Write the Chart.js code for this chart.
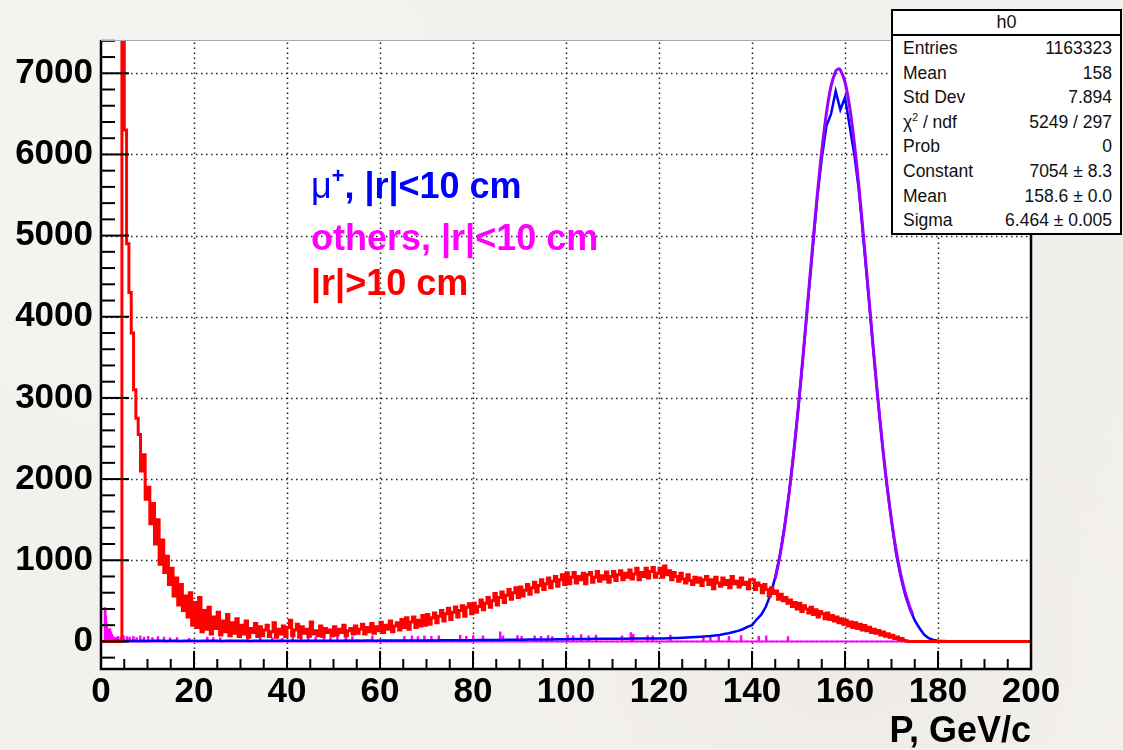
<!DOCTYPE html>
<html>
<head>
<meta charset="utf-8">
<title>h0</title>
<script src="https://cdn.jsdelivr.net/npm/chart.js@4.4.1/dist/chart.umd.min.js"></script>
<style>
  html, body { margin: 0; padding: 0; }
  body {
    width: 1123px; height: 750px; overflow: hidden; position: relative;
    font-family: "Liberation Sans", Arial, sans-serif;
    background:
      radial-gradient(circle at 15% 20%, #f7f5f2 0, rgba(247,245,242,0) 30%),
      radial-gradient(circle at 75% 85%, #eeebe7 0, rgba(238,235,231,0) 35%),
      radial-gradient(circle at 95% 40%, #f0eeea 0, rgba(240,238,234,0) 25%),
      #f3f1ee;
  }
  #chart { position: absolute; left: 0; top: 0; }
  .note { position: absolute; font-weight: bold; font-size: 36px; line-height: 1; white-space: nowrap; }
  .note sup { font-size: 60%; vertical-align: 0.7em; line-height: 0; }
  #stats {
    position: absolute; left: 891px; top: 9px; width: 231px;
    border: 2px solid #000; background: #fff; color: #111;
    font-size: 17.5px; box-sizing: border-box;
  }
  #stats .title { height: 23px; line-height: 23px; text-align: center; font-size: 18px; border-bottom: 2px solid #000; }
  #stats .row { display: flex; justify-content: space-between; height: 24.6px; line-height: 24.6px; padding: 0 8px 0 10px; }
  #stats sup { font-size: 60%; line-height: 0; }
</style>
</head>
<body>
<canvas id="chart" width="1123" height="750"></canvas>

<div class="note" style="left:311px; top:168px; color:#0000ff;"><span style="font-weight:normal">μ</span><sup>+</sup>, |r|&lt;10 cm</div>
<div class="note" style="left:311px; top:220px; color:#ff00ff;">others, |r|&lt;10 cm</div>
<div class="note" style="left:311px; top:265px; color:#ff0000;">|r|&gt;10 cm</div>

<div id="stats">
  <div class="title">h0</div>
  <div class="row"><span>Entries</span><span>1163323</span></div>
  <div class="row"><span>Mean</span><span>158</span></div>
  <div class="row"><span>Std Dev</span><span>7.894</span></div>
  <div class="row"><span>χ<sup>2</sup> / ndf</span><span>5249 / 297</span></div>
  <div class="row"><span>Prob</span><span>0</span></div>
  <div class="row"><span>Constant</span><span>7054 ± 8.3</span></div>
  <div class="row"><span>Mean</span><span>158.6 ± 0.0</span></div>
  <div class="row"><span>Sigma</span><span>6.464 ± 0.005</span></div>
</div>

<script>
// axis tick labels
const xTicks = [0, 20, 40, 60, 80, 100, 120, 140, 160, 180, 200];
const yTicks = [0, 1000, 2000, 3000, 4000, 5000, 6000, 7000];

// |r|>10 cm, counts in 0.5 GeV steps starting at 0
const redBinWidth = 0.5;
const redCounts = [
  0, 0, 0, 0, 0, 0, 0, 0, 0, 9000, 6300, 4900, 4300, 3800, 3100, 2750, 2550, 2100, 2300, 1750,
  1900, 1450, 1700, 1200, 1500, 950, 1250, 850, 1050, 700, 900, 560, 780, 450, 700, 380, 560, 300, 600, 200,
  480, 170, 540, 120, 380, 150, 420, 90, 300, 160, 360, 80, 250, 120, 330, 70, 230, 100, 280, 60,
  200, 90, 250, 50, 160, 110, 220, 60, 180, 70, 140, 200, 60, 120, 230, 50, 150, 90, 190, 60,
  170, 260, 70, 140, 210, 50, 180, 100, 150, 60, 240, 90, 130, 70, 190, 60, 160, 110, 140, 70,
  180, 80, 150, 110, 200, 70, 130, 160, 90, 190, 100, 150, 210, 90, 170, 120, 220, 100, 180, 130,
  235, 110, 200, 150, 250, 120, 190, 230, 140, 270, 170, 290, 150, 240, 300, 170, 260, 190, 320, 200,
  330, 210, 290, 350, 230, 310, 380, 250, 340, 410, 270, 360, 425, 300, 380, 440, 310, 420, 465, 340,
  470, 360, 430, 510, 390, 470, 540, 420, 500, 590, 450, 540, 610, 480, 570, 640, 520, 600, 660, 540,
  670, 560, 630, 700, 580, 660, 730, 610, 690, 760, 640, 710, 780, 660, 740, 800, 680, 760, 820, 700,
  845, 710, 790, 850, 720, 800, 760, 840, 710, 820, 850, 730, 790, 860, 740, 810, 770, 855, 730, 800,
  860, 750, 820, 870, 760, 840, 790, 880, 770, 830, 900, 760, 850, 800, 900, 780, 860, 910, 790, 840,
  900, 790, 930, 820, 870, 760, 850, 800, 740, 840, 770, 720, 820, 750, 700, 790, 730, 780, 690, 760,
  800, 700, 760, 650, 790, 720, 680, 780, 700, 750, 660, 800, 710, 740, 670, 780, 700, 730, 650, 760,
  760, 640, 720, 690, 600, 700, 640, 560, 660, 590, 620, 520, 580, 500, 540, 470, 510, 430, 480, 400,
  470, 370, 440, 400, 350, 420, 330, 390, 300, 370, 340, 280, 350, 270, 320, 250, 300, 230, 280, 210,
  260, 190, 240, 170, 230, 160, 210, 140, 195, 130, 175, 110, 150, 100, 135, 80, 115, 65, 95, 50,
  75, 35, 55, 20, 35, 10, 5, 0, 0, 0, 0, 0, 0, 0, 0, 0, 0, 0, 0, 0,
  0, 0, 0, 0, 0, 0, 0, 0, 0, 0, 0, 0, 0, 0, 0, 0, 0, 0, 0, 0,
  0, 0, 0, 0, 0, 0, 0, 0, 0, 0, 0, 0, 0, 0, 0, 0, 0, 0, 0, 0
];

// mu+, |r|<10 cm, one value per GeV from 0 to 199
const muCounts = [
  0, 0, 3, 5, 5, 6, 6, 7, 6, 7,
  6, 7, 8, 7, 6, 8, 7, 6, 7, 8,
  7, 6, 8, 7, 8, 7, 6, 8, 7, 7,
  8, 7, 6, 8, 7, 8, 7, 8, 7, 8,
  8, 9, 8, 7, 9, 8, 9, 8, 9, 8,
  9, 8, 9, 10, 9, 10, 9, 10, 10, 9,
  10, 11, 10, 11, 10, 12, 11, 12, 11, 12,
  12, 13, 12, 13, 14, 13, 14, 15, 14, 15,
  15, 16, 16, 17, 17, 18, 18, 19, 19, 20,
  20, 21, 22, 22, 23, 24, 25, 25, 26, 27,
  28, 29, 30, 30, 31, 31, 32, 32, 33, 33,
  33, 34, 34, 34, 35, 35, 35, 35, 35, 35,
  35, 37, 39, 41, 43, 46, 49, 52, 55, 58,
  62, 66, 72, 80, 90, 100, 115, 130, 150, 180,
  200, 270, 330, 430, 580, 790, 1060, 1410, 1840, 2340,
  2900, 3520, 4170, 4800, 5450, 5950, 6350, 6500, 6780, 6550,
  6700, 6350, 6000, 5550, 4930, 4300, 3650, 3030, 2450, 1930,
  1490, 1080, 790, 560, 390, 260, 165, 85, 40, 18,
  8, 5, 3, 3, 2, 2, 1, 1, 1, 1,
  1, 0, 1, 0, 0, 1, 0, 0, 0, 0
];

// others, |r|<10 cm: the few non-empty 0.1 GeV bins
const othersBinWidth = 0.1;
const othersX = [0.8, 0.9, 1.0, 1.1, 1.2, 1.3, 1.5, 1.7, 1.9, 2.1, 2.3, 2.6, 3.1, 3.6, 4.2, 4.8, 5.5, 6.1, 6.9, 7.6,
  8.4, 9.2, 10.1, 11.0, 12.2, 13.5, 14.8, 16.3, 18.9, 22.8, 24.1, 25.6, 31.5, 34.2, 36.8, 38.9, 41.2, 43.0, 44.5, 46.1,
  47.9, 49.3, 50.8, 52.6, 54.0, 58.3, 65.2, 66.8, 68.1, 69.5, 71.0, 72.6, 77.2, 78.5, 80.0, 82.1, 85.8, 86.4, 89.5, 90.4,
  93.2, 94.6, 96.1, 97.0, 100.3, 101.5, 103.2, 104.8, 106.4, 112.0, 113.9, 114.4, 117.5, 118.6, 122.4, 129.5, 131.0, 132.8, 135.0, 137.6,
  141.4, 143.0, 147.7];
const othersY = [410, 380, 300, 220, 180, 150, 140, 120, 150, 110, 80, 50, 40, 55, 45, 60, 50, 45, 55, 40,
  60, 45, 55, 40, 50, 45, 35, 40, 30, 45, 40, 35, 30, 40, 35, 30, 45, 40, 50, 45,
  50, 40, 55, 45, 50, 60, 55, 60, 50, 60, 55, 60, 70, 55, 65, 60, 110, 60, 65, 55,
  60, 55, 65, 50, 70, 60, 75, 60, 70, 60, 100, 80, 65, 60, 70, 60, 55, 60, 55, 65,
  55, 60, 50];

// gaussian fit curve as drawn
const fitX = [145, 146, 147, 148, 149, 150, 151, 152, 153, 154, 155, 156, 157, 158, 158.6, 159, 160,
  161, 162, 163, 164, 165, 166, 167, 168, 169, 170, 171, 172, 173, 174, 174.6];
const fitY = [772, 1055, 1410, 1839, 2342, 2911, 3534, 4189, 4847, 5476, 6040, 6506, 6841, 7024, 7054, 7041, 6890,
  6584, 6143, 5595, 4976, 4321, 3663, 3033, 2451, 1934, 1490, 1120, 823, 590, 413, 330];

// build point lists for the library
const redPoints = redCounts.map((v, i) => ({ x: i * redBinWidth, y: v }));
redPoints.push({ x: 200, y: 0 });

const muPoints = muCounts.map((v, i) => ({ x: i, y: v }));

const othersPoints = [{ x: 0, y: 0 }];
othersX.forEach((x, i) => {
  othersPoints.push({ x: x, y: othersY[i] });
  othersPoints.push({ x: x + othersBinWidth, y: 0 });
});
othersPoints.push({ x: 200, y: 0 });

const fitPoints = fitX.map((x, i) => ({ x: x, y: fitY[i] }));

const boldFont = "'Liberation Sans', Arial, sans-serif";

// ROOT style frame: white pad, dotted grid, inward ticks
const rootFrame = {
  id: 'rootFrame',
  beforeDraw(chart) {
    const { ctx, chartArea: a } = chart;
    ctx.save();
    ctx.fillStyle = '#ffffff';
    ctx.fillRect(a.left, a.top, a.right - a.left, a.bottom - a.top);
    ctx.restore();
  },
  beforeDatasetsDraw(chart) {
    const { ctx, chartArea: a, scales: { x, y } } = chart;
    ctx.save();
    ctx.strokeStyle = '#222';
    ctx.lineWidth = 1.5;
    ctx.setLineDash([1.5, 3.5]);
    xTicks.forEach(v => {
      if (v === 0 || v === 200) return;
      const px = Math.round(x.getPixelForValue(v)) + 0.5;
      ctx.beginPath(); ctx.moveTo(px, a.bottom); ctx.lineTo(px, a.top); ctx.stroke();
    });
    yTicks.forEach(v => {
      const py = Math.round(y.getPixelForValue(v)) + 0.5;
      ctx.beginPath(); ctx.moveTo(a.left, py); ctx.lineTo(a.right, py); ctx.stroke();
    });
    ctx.restore();
  },
  afterDatasetsDraw(chart) {
    const { ctx, chartArea: a, scales: { x, y } } = chart;
    ctx.save();
    ctx.strokeStyle = '#000';
    ctx.lineWidth = 2;
    // x ticks: major every 20, minor every 5
    for (let v = 0; v <= 200; v += 5) {
      const px = x.getPixelForValue(v);
      const len = v % 20 === 0 ? 18 : 10;
      ctx.beginPath(); ctx.moveTo(px, a.bottom); ctx.lineTo(px, a.bottom - len); ctx.stroke();
    }
    // y ticks: major every 1000, minor every 200
    for (let v = -200; v <= 7400; v += 200) {
      const py = y.getPixelForValue(v);
      const len = v % 1000 === 0 ? 28 : 14;
      ctx.beginPath(); ctx.moveTo(a.left, py); ctx.lineTo(a.left + len, py); ctx.stroke();
    }
    // frame
    ctx.lineWidth = 2.5;
    ctx.beginPath();
    ctx.moveTo(a.left, a.top);
    ctx.lineTo(a.left, a.bottom);
    ctx.lineTo(a.right, a.bottom);
    ctx.lineTo(a.right, a.top);
    ctx.stroke();
    ctx.strokeStyle = '#aaa';
    ctx.lineWidth = 1;
    ctx.beginPath(); ctx.moveTo(a.left, a.top + 0.5); ctx.lineTo(a.right, a.top + 0.5); ctx.stroke();
    ctx.restore();
  }
};

const ctx = document.getElementById('chart').getContext('2d');
new Chart(ctx, {
  type: 'line',
  data: {
    datasets: [
      { label: 'fit', data: fitPoints, borderColor: '#9900ff', borderWidth: 3, tension: 0.4, pointRadius: 0 },
      { label: '|r|>10 cm', data: redPoints, borderColor: '#ff0000', borderWidth: 3, stepped: true, pointRadius: 0 },
      { label: 'mu+, |r|<10 cm', data: muPoints, borderColor: '#0000ff', borderWidth: 2.5, pointRadius: 0 },
      { label: 'others, |r|<10 cm', data: othersPoints, borderColor: '#ff00ff', borderWidth: 2, stepped: true, pointRadius: 0 }
    ]
  },
  options: {
    responsive: false,
    animation: false,
    devicePixelRatio: 1,
    events: [],
    layout: { padding: { left: 0, top: 40, right: 92, bottom: 0 } },
    plugins: { legend: { display: false }, tooltip: { enabled: false } },
    scales: {
      x: {
        type: 'linear',
        min: 0,
        max: 200,
        afterBuildTicks: s => { s.ticks = xTicks.map(v => ({ value: v })); },
        afterFit: s => { s.height = 81; },
        grid: { display: false, drawTicks: false },
        border: { display: false },
        ticks: {
          autoSkip: false, maxRotation: 0, padding: 2, color: '#000',
          font: { family: boldFont, weight: 'bold', size: 35 },
          callback: v => String(v)
        },
        title: {
          display: true, text: 'P, GeV/c', align: 'end', color: '#000',
          padding: { top: 0, bottom: -4 },
          font: { family: boldFont, weight: 'bold', size: 36 }
        }
      },
      y: {
        type: 'linear',
        min: -340,
        max: 7410,
        afterBuildTicks: s => { s.ticks = yTicks.map(v => ({ value: v })); },
        afterFit: s => { s.width = 101; },
        grid: { display: false, drawTicks: false },
        border: { display: false },
        ticks: {
          autoSkip: false, padding: 8, color: '#000',
          font: { family: boldFont, weight: 'bold', size: 35 },
          callback: v => String(v)
        }
      }
    }
  },
  plugins: [rootFrame]
});
</script>
</body>
</html>
